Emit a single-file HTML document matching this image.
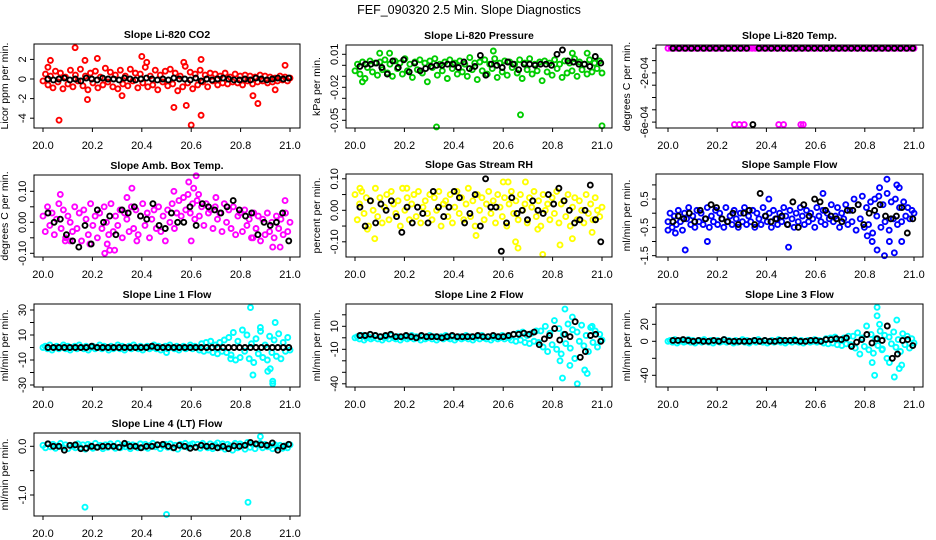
<!DOCTYPE html>
<html><head><meta charset="utf-8"><title>FEF_090320 2.5 Min. Slope Diagnostics</title>
<style>
html,body{margin:0;padding:0;background:#fff;}
svg{display:block;font-family:"Liberation Sans",Arial,sans-serif;}
</style></head>
<body>
<svg id="chart" width="936" height="540" viewBox="0 0 936 540" xmlns="http://www.w3.org/2000/svg">
<rect x="0" y="0" width="936" height="540" fill="#fff"/>
<text x="469" y="14" font-size="12.5" text-anchor="middle">FEF_090320  2.5 Min. Slope Diagnostics</text>
</svg>
<script>
// ---------- data ----------
const xTicks = [20.0, 20.2, 20.4, 20.6, 20.8, 21.0];
const xTickLabels = ["20.0","20.2","20.4","20.6","20.8","21.0"];

const co2Color = [-0.2,0.5,-0.6,0.3,-0.9,0.8,-0.3,0.6,-1.0,0.2,-0.5,0.9,-0.8,0.4,-0.2,1.0,-0.7,0.3,-1.1,0.6,-0.4,0.8,-0.9,0.2,-0.6,1.1,-0.3,0.7,-0.8,0.4,-1.0,0.9,-0.5,0.3,-0.7,1.0,-0.2,0.6,-0.9,0.5,-0.4,1.2,-0.8,0.3,-0.6,0.9,-1.1,0.4,-0.3,0.8,-0.7,1.0,-0.5,0.6,-1.2,0.3,-0.8,1.3,-0.4,0.7,-1.0,0.5,-0.6,0.9,-0.3,0.4,-0.8,0.6,-0.2,0.5,-0.6,0.3,-0.4,0.6,-0.5,0.2,-0.3,0.5,-0.4,0.3,-0.6,0.4,-0.2,0.3,-0.5,0.2,-0.3,0.4,-0.2,0.3,-0.4,0.2,-0.3,0.1,-0.2,0.3,-0.1,0.2,-0.2,0.1];
const co2OutX = [20.02,20.03,20.065,20.13,20.17,20.18,20.22,20.32,20.40,20.42,20.53,20.58,20.57,20.60,20.64,20.64,20.85,20.87,20.94,20.98];
const co2OutY = [1.2,1.9,-4.2,3.2,1.9,-2.1,2.1,-1.7,2.3,1.7,-2.9,-2.7,1.7,-4.7,2.0,-3.7,-1.7,-2.5,-1.1,1.4];
const co2Black = [0,-0.1,0,0.1,-0.1,0,-0.2,0.1,0,-0.1,0.1,0,0,-0.1,0.1,0,-0.1,0,0.1,0,-0.1,0,-0.1,0.1,0,0,-0.1,0.1,-0.2,0,-0.1,0,0.1,0,-0.1,-0.1,0,-0.1,0.1,0,-0.1,0,0.1,0,0.1];

const presColor = [-0.005,0.001,-0.008,0.003,-0.012,-0.002,0.004,-0.006,0.002,-0.009,0.003,-0.004,0.005,-0.007,0.001,-0.010,0.004,-0.003,0.002,-0.008,0.006,-0.005,0.001,-0.011,0.003,-0.004,0.005,-0.007,0.002,-0.015,0.004,-0.002,0.006,-0.009,0.001,-0.005,0.003,-0.012,0.005,-0.003,0.002,-0.008,0.004,-0.006,0.001,-0.010,0.007,-0.004,0.002,-0.013,0.003,-0.005,0.005,-0.008,0.001,-0.003,0.006,-0.011,0.002,-0.006,0.004,-0.009,0.003,-0.002,0.001,-0.007,0.005,-0.012,0.002,-0.004,0.006,-0.008,0.001,-0.005,0.003,-0.014,0.004,-0.006,0.002,-0.009,0.005,-0.003,0.001,-0.011,0.004,-0.007,0.002,-0.005,0.006,-0.010,0.003,-0.004,0.001,-0.008,0.005,-0.006,0.002,-0.003,0.004,-0.007];
const presOutX = [20.03,20.10,20.14,20.33,20.56,20.67,20.88,20.94,21.0];
const presOutY = [-0.015,0.011,0.011,-0.056,0.013,-0.045,0.011,0.011,-0.055];
const presBlack = [-0.001,0.001,0.001,0.002,-0.002,-0.008,0.004,-0.002,0.005,-0.006,0.002,-0.005,-0.003,-0.001,0,0,0.001,0.001,-0.002,0.003,-0.003,-0.001,0.009,-0.009,0.001,0,-0.002,0.003,0.001,-0.004,0.001,0.001,0,0.001,0.001,0,0.010,0.014,0.004,0.003,0.001,0.001,-0.001,0.008,0.002];

const tempColor = [0,0,0,0,0,0,0,0,0,0,0,0,0,0,0,0,0,0,0,0,0,0,0,0,0,0,0,0,0,0,0,0,0,0,0,0,0,0,0,0,0,0,0,0,0,0,0,0,0,0,0,0,0,0,0,0,0,0,0,0,0,0,0,0,0,0,0,0,0,0,0,0,0,0,0,0,0,0,0,0];
const tempOutX = [20.27,20.29,20.31,20.45,20.47,20.54,20.55];
const tempOutY = [-0.00062,-0.00062,-0.00062,-0.00062,-0.00062,-0.00062,-0.00062];
const tempBlack = [0,0,0,0,0,0,0,0,0,0,0,0,0,-0.00062,0,0,0,0,0,0,0,0,0,0,0,0,0,0,0,0,0,0,0,0,0,0,0,0,0,0];

const ambColor = [0.02,-0.03,0.05,-0.01,0.03,-0.04,0.01,0.06,-0.02,0.04,-0.05,0.02,0.00,-0.03,0.05,-0.02,0.03,-0.06,0.04,0.01,-0.04,0.06,-0.01,0.02,-0.05,0.03,-0.02,0.05,0.00,-0.04,0.06,-0.03,0.02,-0.01,0.04,-0.05,0.03,0.01,-0.03,0.05,-0.02,0.04,-0.04,0.02,0.06,-0.01,0.03,-0.05,0.01,0.04,-0.02,0.05,-0.03,0.02,-0.06,0.04,0.00,0.06,-0.02,0.03,0.07,0.02,0.08,0.04,0.09,0.03,0.06,0.01,0.07,0.02,0.05,-0.01,0.06,0.03,0.04,-0.02,0.05,0.01,0.03,-0.03,0.06,0.00,0.04,-0.02,0.05,-0.04,0.02,0.03,-0.03,0.04,-0.01,0.01,-0.05,0.03,-0.02,0.02,-0.06,0.01,-0.04,0.03,-0.03,0.00,-0.05,0.02,-0.02,0.01,-0.04,0.03,-0.03,0.00];
const ambOutX = [20.07,20.09,20.11,20.19,20.25,20.26,20.27,20.29,20.34,20.36,20.38,20.53,20.59,20.60,20.61,20.62,20.63,20.70,20.85,20.93,20.96,20.98];
const ambOutY = [0.09,-0.06,-0.06,-0.07,-0.10,-0.07,-0.09,-0.09,0.08,0.11,-0.06,0.10,0.13,-0.06,0.11,0.15,0.09,0.08,-0.05,-0.08,-0.08,0.07];
const ambBlack = [0.03,0.00,0.01,-0.04,-0.06,-0.08,-0.01,-0.07,0.04,0.00,0.02,-0.04,0.04,0.03,0.05,0.02,0.01,0.06,-0.01,-0.02,0.03,0.00,0.00,0.05,-0.01,0.06,0.05,0.04,0.03,0.05,0.07,0.04,0.02,0.03,-0.04,0.00,-0.01,0.00,0.03,-0.06];

const rhColor = [0.05,-0.03,0.02,0.06,-0.01,0.04,-0.05,0.03,0.00,0.07,-0.02,0.04,-0.04,0.01,0.05,-0.03,0.06,0.02,-0.01,0.03,-0.05,0.07,0.00,0.04,-0.03,0.02,0.05,-0.02,0.06,-0.04,0.01,0.03,-0.01,0.05,-0.03,0.04,0.00,0.06,-0.05,0.02,0.03,-0.02,0.05,-0.04,0.01,0.06,-0.01,0.04,-0.03,0.02,0.07,-0.02,0.03,-0.05,0.05,0.00,0.04,-0.03,0.02,0.06,-0.01,0.03,-0.04,0.05,0.01,-0.02,0.04,-0.05,0.02,0.06,-0.01,0.03,-0.03,0.05,0.00,0.02,-0.04,0.04,0.01,0.06,-0.02,0.03,-0.05,0.05,0.00,0.02,-0.03,0.04,-0.01,0.06,-0.04,0.02,0.03,-0.02,0.05,-0.05,0.01,0.04,-0.03,0.03,0.00,-0.04,0.05,-0.01,0.02,-0.03,0.04,0.00,-0.02,0.01];
const rhOutX = [20.02,20.05,20.08,20.21,20.49,20.60,20.62,20.65,20.66,20.69,20.74,20.76,20.83,20.88,20.96];
const rhOutY = [0.07,-0.06,-0.09,0.07,-0.08,0.09,0.09,-0.10,-0.12,0.09,-0.06,-0.14,-0.11,-0.09,-0.07];
const rhBlack = [0.01,-0.05,0.03,-0.04,0.02,0.00,0.03,-0.02,-0.07,0.01,-0.04,0.01,-0.01,-0.04,0.06,0.01,-0.02,0.01,0.06,0.04,-0.04,-0.01,0.05,-0.05,0.10,0.01,0.01,-0.13,-0.04,0.04,-0.01,0.00,-0.03,0.03,0.00,-0.01,0.05,0.02,0.07,0.03,0.00,-0.04,-0.03,0.00,0.08,-0.03,-0.10];

const sfColor = [-0.3,0.0,-0.5,-0.1,-0.4,0.1,-0.3,-0.6,0.0,-0.2,0.2,-0.4,-0.1,-0.5,0.1,-0.3,0.0,-0.4,-0.2,0.2,-0.5,-0.1,-0.3,0.1,-0.4,0.0,-0.2,-0.5,0.2,-0.3,-0.1,-0.4,0.1,-0.2,-0.5,0.0,-0.3,0.2,-0.4,-0.1,-0.3,0.1,-0.5,0.0,-0.2,-0.4,0.2,-0.1,-0.3,0.0,-0.5,0.1,-0.2,-0.4,0.0,-0.3,0.2,-0.1,-0.4,0.1,-0.2,-0.5,0.0,-0.3,0.2,-0.1,-0.4,0.1,-0.3,0.0,-0.2,-0.5,0.2,-0.1,-0.3,0.1,-0.4,0.0,-0.2,0.3,-0.3,-0.1,0.2,-0.5,0.0,-0.2,0.3,-0.4,0.1,-0.3,0.5,-0.6,0.3,-0.2,0.6,-0.5,0.2,-0.4,0.4,-0.7,0.5,-0.1,0.6,-0.5,0.3,-0.3,0.7,-0.6,0.4,-0.2,0.5,-0.4,0.2,-0.3,0.4,-0.1,0.2,-0.2,0.1,0.0];
const sfOutX = [20.00,20.03,20.07,20.16,20.41,20.49,20.63,20.81,20.83,20.85,20.86,20.88,20.89,20.90,20.92,20.93,20.94,20.95];
const sfOutY = [-0.6,-0.7,-1.3,-1.0,0.5,-1.2,0.7,-0.8,-1.0,-1.3,0.9,-1.5,1.2,-1.0,-1.4,1.0,0.9,-1.0];
const sfBlack = [-0.3,-0.1,-0.2,0.0,-0.3,0.1,-0.2,0.3,0.2,-0.2,-0.3,0.0,-0.4,0.0,0.1,-0.4,0.7,-0.1,-0.3,-0.2,-0.1,-0.4,0.4,-0.5,0.3,-0.1,0.5,0.4,0.1,-0.1,-0.2,-0.3,0.1,0.1,0.3,-0.4,0.0,0.1,0.3,-0.1,-0.2,-0.1,0.2,-0.7,-0.2];

const l1Color = [0,1,-1,2,-2,0,1,-1,0,2,-1,1,-2,0,1,-1,2,0,-1,1,-2,0,1,-1,0,2,-1,1,0,-2,1,-1,0,2,-1,1,-2,0,1,-1,2,0,-1,1,-2,0,1,-1,0,2,-1,1,-2,0,1,-1,2,0,-1,1,-2,0,1,-1,0,2,-1,1,0,-2,3,-3,4,-2,5,-4,2,-5,4,-3,6,-4,8,-6,12,-10,5,-8,14,-3,10,-9,3,-12,7,-5,13,-8,2,-10,9,-4,6,-7,11,-9,4,-3,8,-2];
const l1OutX = [20.84,20.85,20.88,20.93,20.91,20.93,20.94,20.92,20.50,20.76];
const l1OutY = [32,-22,16,-29,-19,-27,20,-17,-4,-9];
const l1Black = [0,0,0,0,0,0,0,0,1,0,0,0,0,0,0,0,0,0,0,1,0,0,0,0,0,0,0,0,0,0,0,0,0,0,0,0,0,0,0,0,0,0,0,0,0];

const l2Color = [0,1,-1,2,-2,0,1,-1,0,2,-1,1,-2,0,1,-1,2,0,-1,1,-2,0,1,-1,0,2,-1,1,0,-2,1,-1,0,2,-1,1,-2,0,1,-1,2,0,-1,1,-2,0,1,-1,0,2,-1,1,-2,0,1,-1,2,0,-1,1,-2,0,1,-1,0,2,-1,1,0,-2,3,-3,4,-2,5,-4,2,-5,4,-3,6,-4,6,-8,10,-12,4,-6,15,-10,8,-14,3,-5,12,-9,7,-18,5,-3,11,-7,2,-12,9,-4,6,-8,3,-2];
const l2OutX = [20.83,20.84,20.85,20.87,20.88,20.90,20.93,20.94,20.96];
const l2OutY = [-20,-35,25,-24,18,-40,-28,-31,10];
const l2Black = [2,2,3,2,1,2,3,1,1,2,1,0,2,1,1,1,0,1,2,1,1,1,1,2,1,1,2,1,1,2,3,3,4,3,5,-6,-1,2,8,-2,3,1,14,-17,-12,2,3,-3];

const l3Color = [0,1,-1,2,-2,0,1,-1,0,2,-1,1,-2,0,1,-1,2,0,-1,1,-2,0,1,-1,0,2,-1,1,0,-2,1,-1,0,2,-1,1,-2,0,1,-1,2,0,-1,1,-2,0,1,-1,0,2,-1,1,-2,0,1,-1,2,0,-1,1,-2,0,1,-1,0,2,-1,1,0,-2,3,-3,4,-2,5,-4,2,-5,4,-3,6,-4,6,-8,10,-15,4,-6,18,-10,8,-14,3,-5,12,-9,7,-20,5,-3,11,-7,2,-12,9,-4,6,-8,3,-2];
const l3OutX = [20.83,20.84,20.85,20.85,20.86,20.87,20.90,20.92,20.93,20.94,20.95];
const l3OutY = [-25,-40,40,30,20,-10,-25,-42,25,-32,-28];
const l3Black = [1,1,2,1,0,1,0,0,1,0,2,0,0,0,0,0,1,0,1,0,0,1,1,1,1,0,0,1,1,0,2,2,3,2,4,-6,-1,2,8,-2,3,1,18,-20,-15,1,2,-5];

const l4Color = [0.02,-0.03,0.05,-0.01,0.04,-0.04,0.01,0.06,-0.02,0.03,-0.05,0.02,0.00,-0.03,0.05,-0.02,0.03,-0.06,0.04,0.01,-0.04,0.06,-0.01,0.02,-0.05,0.03,-0.02,0.05,0.00,-0.04,0.06,-0.03,0.02,-0.01,0.04,-0.05,0.03,0.01,-0.03,0.05,-0.02,0.04,-0.04,0.02,0.06,-0.01,0.03,-0.05,0.01,0.04,-0.02,0.05,-0.03,0.02,-0.06,0.04,0.00,0.06,-0.02,0.03,0.05,-0.02,0.04,-0.04,0.06,0.01,-0.03,0.05,-0.05,0.03,0.07,-0.02,0.05,-0.06,0.04,0.01,-0.08,0.06,-0.03,0.05,0.02,-0.06,0.08,-0.02,0.04,-0.05,0.03,0.06,-0.03,0.04,-0.01,0.01,-0.05,0.03,-0.02,0.02,-0.04,0.01,-0.03,0.03];
const l4OutX = [20.17,20.50,20.83,20.88];
const l4OutY = [-1.25,-1.4,-1.15,0.2];
const l4Black = [0.05,0,0,-0.08,0.02,0.03,-0.05,-0.04,0,-0.02,0,0,0,-0.02,0.06,0,0,-0.03,0,0,0.03,0.04,0,-0.03,0.02,0,-0.04,-0.02,0.02,0,0,-0.03,0,-0.05,0.01,0,0.02,0.08,0.05,0.03,0.02,0.07,-0.08,0,0.04];

// ---------- panel layout (pixel geometry) ----------
const panels = [
 {name:"co2", title:"Slope Li-820 CO2", ylab:"Licor ppm per min.", color:"#ff0000", box:[34,44,300,128], xp:[43,290], y0:79, k:9.8,
  yt:[2,0,-2,-4], ytl:["2","0","-2","-4"], main:co2Color, ox:co2OutX, oy:co2OutY, blk:co2Black},
 {name:"pressure", title:"Slope Li-820 Pressure", ylab:"kPa per min.", color:"#00cd00", box:[346,45,612,128], xp:[355,602], y0:65.3, k:1100,
  yt:[0.01,0,-0.01,-0.02,-0.03,-0.04,-0.05], ytl:["0.01","","","-0.02","","","-0.05"], main:presColor, ox:presOutX, oy:presOutY, blk:presBlack},
 {name:"temp", title:"Slope Li-820 Temp.", ylab:"degrees C per min.", color:"#ff00ff", box:[656,45,923,128], xp:[668,914], y0:48.3, k:123000,
  yt:[0,-0.0001,-0.0002,-0.0003,-0.0004,-0.0005,-0.0006], ytl:["","","-2e-04","","","","-6e-04"], main:tempColor, ox:tempOutX, oy:tempOutY, blk:tempBlack},
 {name:"amb-box-temp", title:"Slope Amb. Box Temp.", ylab:"degrees C per min.", color:"#ff00ff", box:[34,175,300,257], xp:[43,290], y0:222.3, k:310,
  yt:[0.1,0.05,0,-0.05,-0.1], ytl:["0.10","","0.00","","-0.10"], main:ambColor, ox:ambOutX, oy:ambOutY, blk:ambBlack},
 {name:"gas-stream-rh", title:"Slope Gas Stream RH", ylab:"percent per min.", color:"#ffff00", box:[346,174,612,257], xp:[355,602], y0:210.3, k:315,
  yt:[0.1,0.05,0,-0.05,-0.1], ytl:["0.10","","0.00","","-0.10"], main:rhColor, ox:rhOutX, oy:rhOutY, blk:rhBlack},
 {name:"sample-flow", title:"Slope Sample Flow", ylab:"ml/min per min.", color:"#0000ff", box:[656,174,923,257], xp:[668,914], y0:213.2, k:28.3,
  yt:[1,0.5,0,-0.5,-1,-1.5], ytl:["","0.5","","-0.5","","-1.5"], main:sfColor, ox:sfOutX, oy:sfOutY, blk:sfBlack},
 {name:"line1-flow", title:"Slope Line 1 Flow", ylab:"ml/min per min.", color:"#00ffff", box:[34,304,300,387], xp:[43,290], y0:347.5, k:1.25,
  yt:[30,20,10,0,-10,-20,-30], ytl:["30","","10","","-10","","-30"], main:l1Color, ox:l1OutX, oy:l1OutY, blk:l1Black},
 {name:"line2-flow", title:"Slope Line 2 Flow", ylab:"ml/min per min.", color:"#00ffff", box:[346,304,612,387], xp:[355,602], y0:337.8, k:1.15,
  yt:[20,10,0,-10,-20,-30,-40], ytl:["","10","","-10","","","-40"], main:l2Color, ox:l2OutX, oy:l2OutY, blk:l2Black},
 {name:"line3-flow", title:"Slope Line 3 Flow", ylab:"ml/min per min.", color:"#00ffff", box:[656,304,923,387], xp:[668,914], y0:341.3, k:0.85,
  yt:[40,20,0,-20,-40], ytl:["","20","0","","-40"], main:l3Color, ox:l3OutX, oy:l3OutY, blk:l3Black},
 {name:"line4-flow", title:"Slope Line 4 (LT) Flow", ylab:"ml/min per min.", color:"#00ffff", box:[34,433,300,516], xp:[43,290], y0:446.3, k:48.7,
  yt:[0,-0.5,-1.0], ytl:["0.0","","-1.0"], main:l4Color, ox:l4OutX, oy:l4OutY, blk:l4Black}
];

const NS = "http://www.w3.org/2000/svg";
const svg = document.getElementById("chart");
const PR = 2.5, PW = 1.9;
function mk(tag, attrs, parent){
  const e = document.createElementNS(NS, tag);
  for (const a in attrs) e.setAttribute(a, attrs[a]);
  (parent||svg).appendChild(e);
  return e;
}

panels.forEach(p => {
  const [bx0, by0, bx1, by1] = p.box;
  const xScale = v => p.xp[0] + (v - 20) * (p.xp[1] - p.xp[0]);
  const yScale = v => p.y0 - v * p.k;
  const g = mk("g", {});
  
  

  const cx = (bx0 + bx1) / 2;
  const t = mk("text", {x:cx, y:by0 - 6, "font-size":10.5, "font-weight":"bold", "text-anchor":"middle"}, g);
  t.textContent = p.title;
  
  

  const cy = (by0 + by1) / 2;
  const yl = mk("text", {x:0, y:0, "font-size":10.5, "text-anchor":"middle", transform:`translate(${bx0-26},${cy}) rotate(-90)`}, g);
  yl.textContent = p.ylab;
  
  

  const cg = mk("g", {fill:"none", stroke:p.color, "stroke-width":PW}, g);
  
  
  const n = p.main.length;
  p.main.forEach((v, i) => {
    const c = mk("circle", {cx:xScale(20 + i/(n-1)), cy:yScale(v), r:PR}, cg);
    
    
  });
  p.ox.forEach((xv, i) => {
    const c = mk("circle", {cx:xScale(xv), cy:yScale(p.oy[i]), r:PR}, cg);
    
    
  });
  const bg = mk("g", {fill:"none", stroke:"#000", "stroke-width":PW}, g);
  
  
  const nb = p.blk.length;
  p.blk.forEach((v, i) => {
    const c = mk("circle", {cx:xScale(20.02 + 0.975*i/(nb-1)), cy:yScale(v), r:PR}, bg);
    
    
  });

  const box = mk("rect", {x:bx0, y:by0, width:bx1-bx0, height:by1-by0, fill:"none", stroke:"#000", "stroke-width":1}, g);
  
  

  xTicks.forEach((xv, i) => {
    const px = xScale(xv);
    mk("line", {x1:px, y1:by1, x2:px, y2:by1+4, stroke:"#000", "stroke-width":1}, g);
    const tl = mk("text", {x:px, y:by1+21, "font-size":11, "text-anchor":"middle"}, g);
    tl.textContent = xTickLabels[i];
    
    
  });
  p.yt.forEach((yv, i) => {
    const py = yScale(yv);
    mk("line", {x1:bx0-4, y1:py, x2:bx0, y2:py, stroke:"#000", "stroke-width":1}, g);
    if (p.ytl[i]) {
      const tl = mk("text", {x:0, y:0, "font-size":11, "text-anchor":"middle", transform:`translate(${bx0-8},${py}) rotate(-90)`}, g);
      tl.textContent = p.ytl[i];
      
      
    }
  });
});
</script>
</body></html>
